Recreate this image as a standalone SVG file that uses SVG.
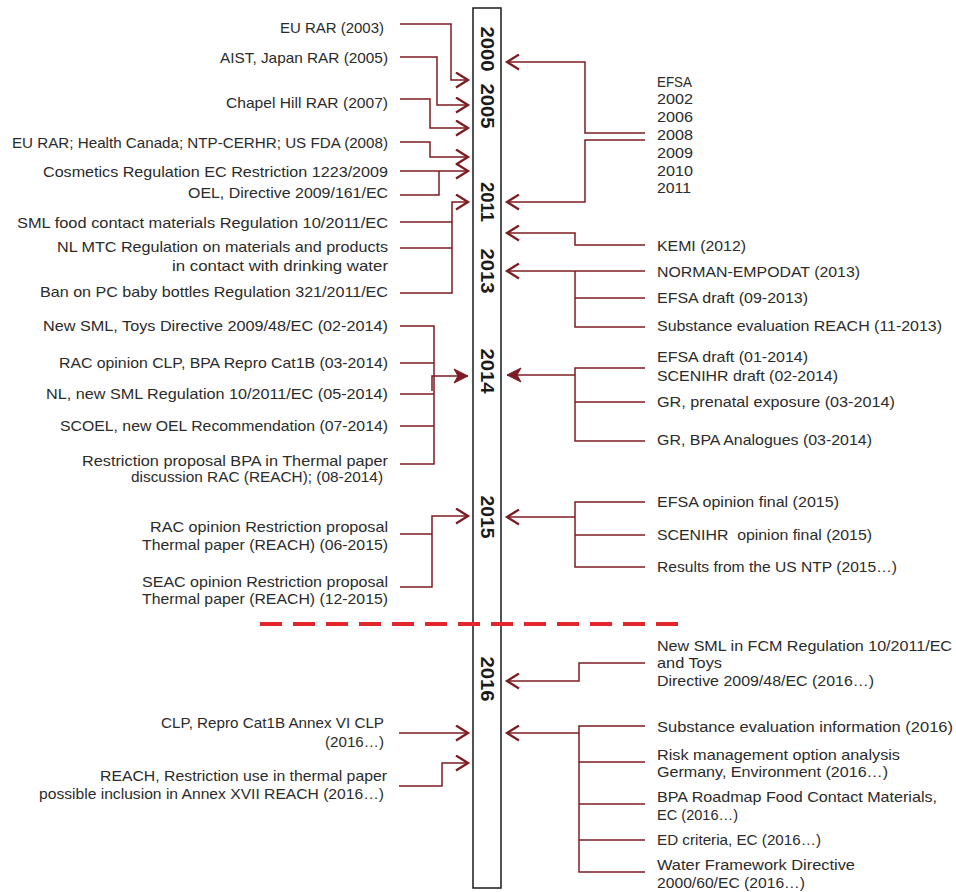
<svg xmlns="http://www.w3.org/2000/svg" width="956" height="892" viewBox="0 0 956 892">
<defs>
<style>
.t{font-family:"Liberation Sans",Arial,sans-serif;font-size:14.5px;fill:#2b2b2b}
.l{text-anchor:end}
.yr{font-family:"Liberation Sans",Arial,sans-serif;font-size:18px;font-weight:bold;fill:#1a1a1a;text-anchor:middle}
.c{fill:none;stroke:#7d1d23;stroke-width:1.5}
.a{marker-end:url(#ar)}
.af{marker-end:url(#arf)}
</style>
<marker id="ar" markerUnits="userSpaceOnUse" markerWidth="17" markerHeight="17" refX="14" refY="8.5" orient="auto">
<path d="M2,1 L14,8.5 L2,16" fill="none" stroke="#7d1d23" stroke-width="2.3"/>
</marker>
<marker id="arf" markerUnits="userSpaceOnUse" markerWidth="17" markerHeight="17" refX="15" refY="8.5" orient="auto">
<path d="M1,1.5 L15,8.5 L1,15.5 L5,8.5 z" fill="#7d1d23" stroke="#7d1d23" stroke-width="1"/>
</marker>
</defs>
<rect width="956" height="892" fill="#ffffff"/>

<g id="timeline">
<rect x="473" y="8" width="28" height="880" fill="#ffffff" stroke="#1a1a1a" stroke-width="1.5"/>
<text class="yr" transform="translate(487,49) rotate(90)" y="6.5" textLength="45" lengthAdjust="spacingAndGlyphs">2000</text>
<text class="yr" transform="translate(487,106) rotate(90)" y="6.5" textLength="45" lengthAdjust="spacingAndGlyphs">2005</text>
<text class="yr" transform="translate(487,202) rotate(90)" y="6.5" textLength="40" lengthAdjust="spacingAndGlyphs">2011</text>
<text class="yr" transform="translate(487,271) rotate(90)" y="6.5" textLength="45" lengthAdjust="spacingAndGlyphs">2013</text>
<text class="yr" transform="translate(487,371) rotate(90)" y="6.5" textLength="45" lengthAdjust="spacingAndGlyphs">2014</text>
<text class="yr" transform="translate(487,517) rotate(90)" y="6.5" textLength="43" lengthAdjust="spacingAndGlyphs">2015</text>
<text class="yr" transform="translate(487,679) rotate(90)" y="6.5" textLength="45" lengthAdjust="spacingAndGlyphs">2016</text>
</g>

<g id="connectors">
<path class="c a" d="M400,24 H451 V80 H468"/>
<path class="c a" d="M400,57 H437 V105 H468"/>
<path class="c a" d="M400,99 H430 V128 H468"/>
<path class="c a" d="M400,142 H430 V157 H468"/>
<path class="c a" d="M400,171 H468"/>
<path class="c" d="M400,195 H439 V171"/>
<path class="c" d="M400,222 H452"/>
<path class="c" d="M400,248 H452"/>
<path class="c a" d="M400,293 H452 V202 H468"/>
<path class="c" d="M400,326 H434 V464 H400"/>
<path class="c" d="M400,363 H434"/>
<path class="c" d="M400,394 H434"/>
<path class="c" d="M400,426 H434"/>
<path class="c af" d="M432,391 V376 H468"/>
<path class="c" d="M400,534 H432"/>
<path class="c a" d="M400,587 H432 V516 H468"/>
<path class="c a" d="M399,733 H468"/>
<path class="c a" d="M399,786 H442 V763 H468"/>

<path class="c a" d="M645,133 H585 V62 H507"/>
<path class="c a" d="M645,140 H585 V202 H507"/>
<path class="c a" d="M645,245 H575 V233 H507"/>
<path class="c a" d="M645,271 H507"/>
<path class="c" d="M645,298 H575"/>
<path class="c" d="M645,327 H575 V271"/>
<path class="c" d="M645,368 H575 V441 H645"/>
<path class="c" d="M645,402 H575"/>
<path class="c af" d="M575,375 H507"/>
<path class="c" d="M645,502 H575 V567 H645"/>
<path class="c" d="M645,535 H575"/>
<path class="c a" d="M575,517 H507"/>
<path class="c a" d="M645,663 H579 V681 H507"/>
<path class="c" d="M645,726 H579 V872 H645"/>
<path class="c" d="M645,762 H579"/>
<path class="c" d="M645,804 H579"/>
<path class="c" d="M645,840 H579"/>
<path class="c a" d="M579,733 H507"/>
</g>

<g id="separator">
<line x1="260" y1="624" x2="680" y2="624" stroke="#e3262b" stroke-width="4" stroke-dasharray="22 11"/>
</g>

<g id="left-labels" class="t l">
<g id="n-eu-rar-2003"><text x="384" y="33" textLength="104" lengthAdjust="spacingAndGlyphs">EU RAR (2003)</text></g>
<g id="n-aist"><text x="388" y="63" textLength="168" lengthAdjust="spacingAndGlyphs">AIST, Japan RAR (2005)</text></g>
<g id="n-chapel"><text x="388" y="108" textLength="162" lengthAdjust="spacingAndGlyphs">Chapel Hill RAR (2007)</text></g>
<g id="n-eu-rar-2008"><text x="388" y="148" textLength="376" lengthAdjust="spacingAndGlyphs">EU RAR; Health Canada; NTP-CERHR; US FDA (2008)</text></g>
<g id="n-cosmetics"><text x="388" y="177" textLength="345" lengthAdjust="spacingAndGlyphs">Cosmetics Regulation EC Restriction 1223/2009</text></g>
<g id="n-oel"><text x="388" y="198" textLength="200" lengthAdjust="spacingAndGlyphs">OEL, Directive 2009/161/EC</text></g>
<g id="n-sml-fcm"><text x="388" y="228" textLength="371" lengthAdjust="spacingAndGlyphs">SML food contact materials Regulation 10/2011/EC</text></g>
<g id="n-nl-mtc"><text x="388" y="252" textLength="331" lengthAdjust="spacingAndGlyphs">NL MTC Regulation on materials and products</text><text x="388" y="271" textLength="216" lengthAdjust="spacingAndGlyphs">in contact with drinking water</text></g>
<g id="n-ban-pc"><text x="388" y="297" textLength="348" lengthAdjust="spacingAndGlyphs">Ban on PC baby bottles Regulation 321/2011/EC</text></g>
<g id="n-new-sml-toys"><text x="388" y="331" textLength="345" lengthAdjust="spacingAndGlyphs">New SML, Toys Directive 2009/48/EC (02-2014)</text></g>
<g id="n-rac-clp"><text x="388" y="368" textLength="329" lengthAdjust="spacingAndGlyphs">RAC opinion CLP, BPA Repro Cat1B (03-2014)</text></g>
<g id="n-nl-new-sml"><text x="388" y="399" textLength="342" lengthAdjust="spacingAndGlyphs">NL, new SML Regulation 10/2011/EC (05-2014)</text></g>
<g id="n-scoel"><text x="388" y="431" textLength="328" lengthAdjust="spacingAndGlyphs">SCOEL, new OEL Recommendation (07-2014)</text></g>
<g id="n-restriction"><text x="388" y="466" textLength="306" lengthAdjust="spacingAndGlyphs">Restriction proposal BPA in Thermal paper</text><text x="383" y="482" textLength="252" lengthAdjust="spacingAndGlyphs">discussion RAC (REACH); (08-2014)</text></g>
<g id="n-rac-2015"><text x="388" y="532" textLength="238" lengthAdjust="spacingAndGlyphs">RAC opinion Restriction proposal</text><text x="388" y="550" textLength="246" lengthAdjust="spacingAndGlyphs">Thermal paper (REACH) (06-2015)</text></g>
<g id="n-seac-2015"><text x="388" y="587" textLength="246" lengthAdjust="spacingAndGlyphs">SEAC opinion Restriction proposal</text><text x="388" y="604" textLength="246" lengthAdjust="spacingAndGlyphs">Thermal paper (REACH) (12-2015)</text></g>
<g id="n-clp-2016"><text x="384" y="728" textLength="223" lengthAdjust="spacingAndGlyphs">CLP, Repro Cat1B Annex VI CLP</text><text x="384" y="747" textLength="59" lengthAdjust="spacingAndGlyphs">(2016…)</text></g>
<g id="n-reach-2016"><text x="387" y="781" textLength="287" lengthAdjust="spacingAndGlyphs">REACH, Restriction use in thermal paper</text><text x="384" y="799" textLength="345" lengthAdjust="spacingAndGlyphs">possible inclusion in Annex XVII REACH (2016…)</text></g>
</g>

<g id="right-labels" class="t">
<g id="n-efsa"><text x="657" y="87" textLength="35" lengthAdjust="spacingAndGlyphs">EFSA</text><text x="657" y="104" textLength="36" lengthAdjust="spacingAndGlyphs">2002</text><text x="657" y="122" textLength="36" lengthAdjust="spacingAndGlyphs">2006</text><text x="657" y="140" textLength="36" lengthAdjust="spacingAndGlyphs">2008</text><text x="657" y="158" textLength="36" lengthAdjust="spacingAndGlyphs">2009</text><text x="657" y="176" textLength="36" lengthAdjust="spacingAndGlyphs">2010</text><text x="657" y="193" textLength="34" lengthAdjust="spacingAndGlyphs">2011</text></g>
<g id="n-kemi"><text x="657" y="251" textLength="89" lengthAdjust="spacingAndGlyphs">KEMI (2012)</text></g>
<g id="n-norman"><text x="657" y="277" textLength="203" lengthAdjust="spacingAndGlyphs">NORMAN-EMPODAT (2013)</text></g>
<g id="n-efsa-draft-2013"><text x="657" y="303" textLength="151" lengthAdjust="spacingAndGlyphs">EFSA draft (09-2013)</text></g>
<g id="n-subst-eval-2013"><text x="657" y="331" textLength="285" lengthAdjust="spacingAndGlyphs">Substance evaluation REACH (11-2013)</text></g>
<g id="n-drafts-2014"><text x="657" y="362" textLength="151" lengthAdjust="spacingAndGlyphs">EFSA draft (01-2014)</text><text x="657" y="381" textLength="181" lengthAdjust="spacingAndGlyphs">SCENIHR draft (02-2014)</text></g>
<g id="n-gr-prenatal"><text x="657" y="407" textLength="238" lengthAdjust="spacingAndGlyphs">GR, prenatal exposure (03-2014)</text></g>
<g id="n-gr-analogues"><text x="657" y="445" textLength="215" lengthAdjust="spacingAndGlyphs">GR, BPA Analogues (03-2014)</text></g>
<g id="n-efsa-final"><text x="657" y="507" textLength="182" lengthAdjust="spacingAndGlyphs">EFSA opinion final (2015)</text></g>
<g id="n-scenihr-final"><text x="657" y="540" xml:space="preserve" textLength="215" lengthAdjust="spacingAndGlyphs">SCENIHR  opinion final (2015)</text></g>
<g id="n-us-ntp"><text x="657" y="572" textLength="240" lengthAdjust="spacingAndGlyphs">Results from the US NTP (2015…)</text></g>
<g id="n-new-sml-fcm"><text x="657" y="651" textLength="295" lengthAdjust="spacingAndGlyphs">New SML in FCM Regulation 10/2011/EC</text><text x="657" y="668" textLength="65" lengthAdjust="spacingAndGlyphs">and Toys</text><text x="657" y="686" textLength="217" lengthAdjust="spacingAndGlyphs">Directive 2009/48/EC (2016…)</text></g>
<g id="n-subst-eval-2016"><text x="657" y="732" textLength="296" lengthAdjust="spacingAndGlyphs">Substance evaluation information (2016)</text></g>
<g id="n-rmoa"><text x="657" y="760" textLength="243" lengthAdjust="spacingAndGlyphs">Risk management option analysis</text><text x="657" y="777" textLength="231" lengthAdjust="spacingAndGlyphs">Germany, Environment (2016…)</text></g>
<g id="n-roadmap"><text x="657" y="802" textLength="280" lengthAdjust="spacingAndGlyphs">BPA Roadmap Food Contact Materials,</text><text x="657" y="820" textLength="81" lengthAdjust="spacingAndGlyphs">EC (2016…)</text></g>
<g id="n-ed"><text x="657" y="845" textLength="164" lengthAdjust="spacingAndGlyphs">ED criteria, EC (2016…)</text></g>
<g id="n-wfd"><text x="657" y="870" textLength="198" lengthAdjust="spacingAndGlyphs">Water Framework Directive</text><text x="657" y="888" textLength="148" lengthAdjust="spacingAndGlyphs">2000/60/EC (2016…)</text></g>
</g>
</svg>
